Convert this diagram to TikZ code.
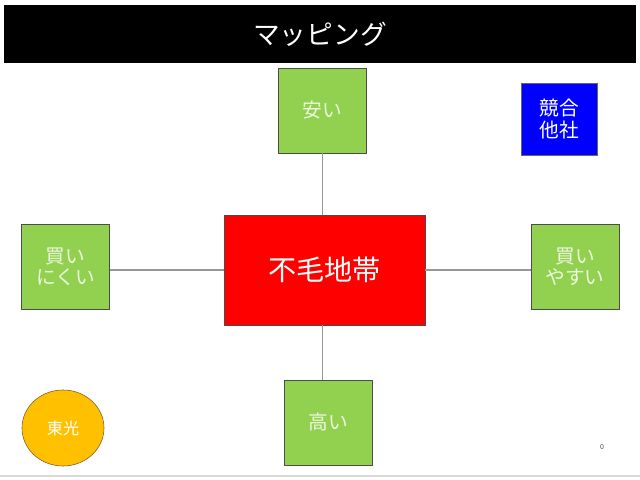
\documentclass[tikz,border=0pt]{standalone}
\usepackage{fontspec}
\setmainfont{Noto Sans CJK JP}
\usetikzlibrary{shapes.geometric, positioning}
\definecolor{leafgreen}{RGB}{146,208,80}
\definecolor{paleleaf}{RGB}{236,248,222}
\definecolor{deepblue}{RGB}{0,0,255}
\definecolor{amber}{RGB}{255,192,0}
\definecolor{edgegray}{RGB}{150,150,150}

\begin{document}
\begin{tikzpicture}[x=0.025cm, y=-0.025cm,
      tile/.style={rectangle, draw=black!70, fill=leafgreen, text=paleleaf,
                   minimum width=2.2cm, minimum height=2.12cm, inner sep=0pt,
                   align=center, font=\fontsize{14}{15}\selectfont},
      link/.style={draw=edgegray, line width=0.9pt}
    ]
    \useasboundingbox (0,0) rectangle (640,480);
    % slide title
    \node[rectangle, fill=black, text=white, minimum width=15.8cm, minimum height=1.45cm,
          font=\fontsize{19}{20}\selectfont] (title) at (320,34) {マッピング};

    \node[tile] (cheap) at (322.5,110.5) {安い};
    \node[tile] (hardbuy) at (65.5,267) {買い\\にくい};
    \node[tile] (easybuy) at (575,267) {買い\\やすい};
    \node[tile] (pricey) at (328,422.5) {高い};
    \node[rectangle, draw=black!70, fill=red, text=white, minimum width=5.025cm,
          minimum height=2.75cm, font=\fontsize{20}{21}\selectfont] (barren) at (324.5,270) {不毛地帯};
    \node[rectangle, draw=black!60, fill=deepblue, text=white, minimum width=1.9cm,
          minimum height=1.8cm, align=center, font=\fontsize{14}{15}\selectfont] (rival) at (559,119) {競合\\他社};
    \node[ellipse, draw=brown!70!black, fill=amber, text=white, minimum width=2.05cm,
          minimum height=1.9cm, inner sep=0pt, font=\fontsize{11.5}{12}\selectfont] (toko) at (63,428) {東光};
    \node[text=black!70, font=\fontsize{5}{6}\selectfont] (pagenum) at (602,447) {0};

    \draw[link] (cheap.south) -- (cheap.south |- barren.north);
    \draw[link] (cheap.south |- barren.south) -- (cheap.south |- pricey.north);
    \draw[link] (barren.west) -- (barren.west -| hardbuy.east);
    \draw[link] (barren.east) -- (barren.east -| easybuy.west);

    \draw[black!15, line width=0.8pt] (0,476) -- (640,476);
  \end{tikzpicture}
\end{document}
